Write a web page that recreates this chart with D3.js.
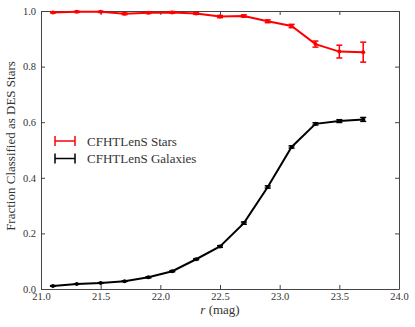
<!DOCTYPE html>
<html>
<head>
<meta charset="utf-8">
<script src="https://cdn.jsdelivr.net/npm/d3@7"></script>
<style>
  body { margin: 0; background: #fff; }
</style>
</head>
<body>
<div id="chart"></div>
<script>
// magnitude bins
const mags = [21.1, 21.3, 21.5, 21.7, 21.9, 22.1, 22.3, 22.5, 22.7, 22.9, 23.1, 23.3, 23.5, 23.7];
const starFrac = [0.995, 0.997, 0.997, 0.990, 0.994, 0.995, 0.991, 0.980, 0.982, 0.963, 0.946, 0.881, 0.854, 0.852];
const starErr = [0.002, 0.002, 0.002, 0.003, 0.003, 0.003, 0.003, 0.004, 0.004, 0.005, 0.006, 0.011, 0.023, 0.036];
const galFrac = [0.011, 0.018, 0.022, 0.028, 0.042, 0.064, 0.107, 0.153, 0.237, 0.367, 0.511, 0.594, 0.604, 0.610];
const galErr = [0.001, 0.001, 0.001, 0.001, 0.002, 0.002, 0.002, 0.003, 0.004, 0.004, 0.004, 0.004, 0.005, 0.007];
const xTicks = [21.0, 21.5, 22.0, 22.5, 23.0, 23.5, 24.0];
const yTicks = [0.0, 0.2, 0.4, 0.6, 0.8, 1.0];

const W = 415, H = 327;
const m = { left: 41, right: 16, top: 11, bottom: 38 };
const FONT = "'Times New Roman', Tinos, serif";

const svg = d3.select("#chart").append("svg")
    .attr("width", W)
    .attr("height", H);

const x = d3.scaleLinear().domain([21, 24]).range([m.left, W - m.right]);
const y = d3.scaleLinear().domain([0, 1]).range([H - m.bottom, m.top]);

// axes, matplotlib classic style: ticks inward on all sides
const tick = 4;
const fmt = d3.format(".1f");
svg.append("g").attr("transform", `translate(0,${y(0)})`)
    .call(d3.axisBottom(x).tickValues(xTicks).tickFormat(fmt).tickSizeInner(-tick).tickSizeOuter(0).tickPadding(4));
svg.append("g").attr("transform", `translate(0,${y(1)})`)
    .call(d3.axisTop(x).tickValues(xTicks).tickFormat("").tickSizeInner(-tick).tickSizeOuter(0));
svg.append("g").attr("transform", `translate(${x(21)},0)`)
    .call(d3.axisLeft(y).tickValues(yTicks).tickFormat(fmt).tickSizeInner(-tick).tickSizeOuter(0).tickPadding(5));
svg.append("g").attr("transform", `translate(${x(24)},0)`)
    .call(d3.axisRight(y).tickValues(yTicks).tickFormat("").tickSizeInner(-tick).tickSizeOuter(0));

svg.selectAll("g").attr("font-family", FONT);
svg.selectAll(".domain").attr("stroke", "#444").attr("stroke-width", 1);
svg.selectAll(".tick line").attr("stroke", "#444");
svg.selectAll(".tick text")
    .attr("font-family", FONT)
    .attr("font-size", 10.5)
    .attr("fill", "#333");

svg.append("text")
    .attr("x", (x(21) + x(24)) / 2)
    .attr("y", H - 13)
    .attr("text-anchor", "middle")
    .attr("font-family", FONT)
    .attr("font-size", 13)
    .attr("fill", "#333")
    .html('<tspan font-style="italic">r</tspan> (mag)');

svg.append("text")
    .attr("transform", `translate(15,${(y(0) + y(1)) / 2 - 4}) rotate(-90)`)
    .attr("text-anchor", "middle")
    .attr("font-family", FONT)
    .attr("font-size", 13)
    .attr("fill", "#333")
    .text("Fraction Classified as DES Stars");

function drawSeries(vals, errs, color) {
    const pts = mags.map((d, i) => ({ m: d, v: vals[i], e: errs[i] }));
    const line = d3.line().x(d => x(d.m)).y(d => y(d.v));
    const g = svg.append("g");
    g.append("path").datum(pts)
        .attr("fill", "none")
        .attr("stroke", color)
        .attr("stroke-width", 2)
        .attr("d", line);
    const eb = g.selectAll(".eb").data(pts).join("g");
    eb.append("line")
        .attr("x1", d => x(d.m)).attr("x2", d => x(d.m))
        .attr("y1", d => y(d.v - d.e)).attr("y2", d => y(d.v + d.e))
        .attr("stroke", color).attr("stroke-width", 1.5);
    [-1, 1].forEach(s => {
        eb.append("line")
            .attr("x1", d => x(d.m) - 3).attr("x2", d => x(d.m) + 3)
            .attr("y1", d => y(d.v + s * d.e)).attr("y2", d => y(d.v + s * d.e))
            .attr("stroke", color).attr("stroke-width", 1.5);
    });
    g.selectAll("circle").data(pts).join("circle")
        .attr("cx", d => x(d.m)).attr("cy", d => y(d.v))
        .attr("r", 2)
        .attr("fill", color);
}

drawSeries(starFrac, starErr, "#ff0000");
drawSeries(galFrac, galErr, "#000000");

// legend
const legend = [{ label: "CFHTLenS Stars", color: "#ff0000" }, { label: "CFHTLenS Galaxies", color: "#000000" }];
const lg = svg.selectAll(".lg").data(legend).join("g")
    .attr("transform", (d, i) => `translate(55,${141 + i * 17.5})`);
lg.append("line").attr("x1", 0).attr("x2", 20).attr("y1", 0).attr("y2", 0)
    .attr("stroke", d => d.color).attr("stroke-width", 1.5);
[0, 20].forEach(px => {
    lg.append("line").attr("x1", px).attr("x2", px).attr("y1", -5).attr("y2", 5)
        .attr("stroke", d => d.color).attr("stroke-width", 1.5);
});
lg.append("text").attr("x", 32).attr("y", 4.5)
    .attr("font-family", FONT)
    .attr("font-size", 13)
    .attr("fill", "#333")
    .text(d => d.label);
</script>
</body>
</html>
